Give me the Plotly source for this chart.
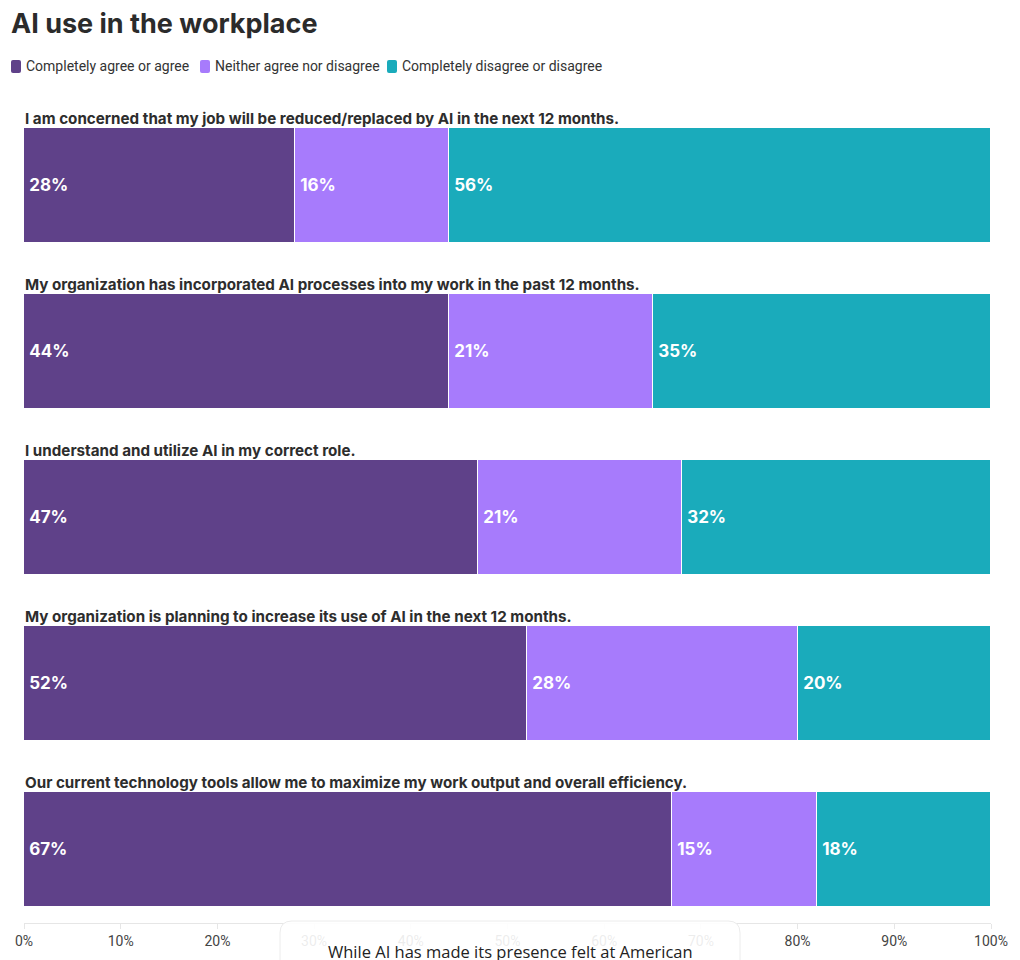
import plotly.graph_objects as go

# ---- data ----
questions = [
    "I am concerned that my job will be reduced/replaced by AI in the next 12 months.",
    "My organization has incorporated AI processes into my work in the past 12 months.",
    "I understand and utilize AI in my correct role.",
    "My organization is planning to increase its use of AI in the next 12 months.",
    "Our current technology tools allow me to maximize my work output and overall efficiency.",
]
series_names = ["Completely agree or agree", "Neither agree nor disagree", "Completely disagree or disagree"]
agree = [28, 44, 47, 52, 67]
neither = [16, 21, 21, 28, 15]
disagree = [56, 35, 32, 20, 18]
tick_values = [0, 10, 20, 30, 40, 50, 60, 70, 80, 90, 100]
tick_labels = ["0%", "10%", "20%", "30%", "40%", "50%", "60%", "70%", "80%", "90%", "100%"]
card_text = "While AI has made its presence felt at American"

colors = ["#5f4189", "#a77bfc", "#1aabbb"]

# ---- geometry (page-pixel helpers; page body has an 8px margin) ----
OFF = 8
W, H = 1020 - OFF, 960 - OFF
# plot area in page pixels
PL, PR, PT, PB = 24, 991, 100, 923
L, R, T, B = PL - OFF, PR - OFF, PT - OFF, PB - OFF

def px(x):  # page pixel -> paper x
    return (x - PL) / (PR - PL)
def py(y):  # page pixel -> paper y
    return (PB - y) / (PB - PT)

ypos = list(range(len(questions)))
bar_w = 115 / 166

fig = go.Figure()
for name, vals, col in zip(series_names, [agree, neither, disagree], colors):
    fig.add_trace(go.Bar(
        y=ypos, x=vals, name=name, orientation="h",
        marker=dict(color=col, line=dict(color="white", width=1)),
        width=bar_w,
        text=[f"\u2009{v}%" for v in vals],
        textposition="inside", insidetextanchor="start",
        textfont=dict(family="Inter, Roboto, sans-serif", size=17, color="white", weight="bold"),
        showlegend=False, hoverinfo="skip",
    ))

annotations = []
for i, q in enumerate(questions):
    annotations.append(dict(
        x=0, xref="paper", y=i - bar_w / 2 - 0.06, yref="y",
        text=q, showarrow=False, xanchor="left", yanchor="middle", xshift=-1,
        font=dict(family="Inter, Roboto, sans-serif", size=15.2, color="#2d2d2d", weight="bold"),
    ))

# manual legend
shapes = []
leg_x = [11, 200, 387]
for lx, name, col in zip(leg_x, series_names, colors):
    x0, x1, y0, y1 = lx, lx + 10, 60, 73
    r = 2
    path = (f"M {px(x0+r)},{py(y0)} L {px(x1-r)},{py(y0)} Q {px(x1)},{py(y0)} {px(x1)},{py(y0+r)} "
            f"L {px(x1)},{py(y1-r)} Q {px(x1)},{py(y1)} {px(x1-r)},{py(y1)} "
            f"L {px(x0+r)},{py(y1)} Q {px(x0)},{py(y1)} {px(x0)},{py(y1-r)} "
            f"L {px(x0)},{py(y0+r)} Q {px(x0)},{py(y0)} {px(x0+r)},{py(y0)} Z")
    shapes.append(dict(type="path", xref="paper", yref="paper", path=path,
                       fillcolor=col, line=dict(width=0), layer="above"))
    annotations.append(dict(
        x=px(lx + 13), xref="paper", y=py(66), yref="paper", text=name,
        showarrow=False, xanchor="left", yanchor="middle",
        font=dict(family="Roboto, sans-serif", size=14, color="#333333"),
    ))

# overlay card
cx0, cx1, cy0, cy1, cr = 280, 740, 921, 975, 12
card = (f"M {px(cx0+cr)},{py(cy0)} L {px(cx1-cr)},{py(cy0)} Q {px(cx1)},{py(cy0)} {px(cx1)},{py(cy0+cr)} "
        f"L {px(cx1)},{py(cy1)} L {px(cx0)},{py(cy1)} L {px(cx0)},{py(cy0+cr)} "
        f"Q {px(cx0)},{py(cy0)} {px(cx0+cr)},{py(cy0)} Z")
shapes.append(dict(type="path", xref="paper", yref="paper", path=card,
                   fillcolor="rgba(255,255,255,0.9)", line=dict(color="#ececec", width=1), layer="above"))
annotations.append(dict(
    x=px(510), xref="paper", y=py(951), yref="paper", text=card_text,
    showarrow=False, xanchor="center", yanchor="middle",
    font=dict(family="Open Sans, Noto Sans, sans-serif", size=16.5, color="#222222"),
))

fig.update_layout(
    width=W, height=H,
    margin=dict(l=L, r=W - R, t=T, b=H - B, autoexpand=False),
    barmode="stack",
    bargap=0,
    plot_bgcolor="white", paper_bgcolor="white",
    title=dict(text="AI use in the workplace", x=(11 - OFF) / W, xanchor="left",
               y=1 - (24 - OFF) / H, yanchor="middle",
               font=dict(family="Inter, Roboto, sans-serif", size=27, color="#2b2b2b", weight="bold")),
    xaxis=dict(range=[0, 100], tickvals=tick_values, ticktext=tick_labels, automargin=False,
               showgrid=False, zeroline=False, showline=True, linecolor="#e6e6e6", linewidth=1,
               ticks="outside", ticklen=5, tickcolor="#e6e6e6",
               tickfont=dict(family="Liberation Sans Narrow, Roboto, sans-serif", size=14, color="#444444"),
               fixedrange=True),
    yaxis=dict(range=[len(questions) - 1 + 73.5 / 166, -85.5 / 166], showticklabels=False, automargin=False,
               showgrid=False, zeroline=False, showline=False, fixedrange=True),
    shapes=shapes,
    annotations=annotations,
)

fig.write_html("out.html")
